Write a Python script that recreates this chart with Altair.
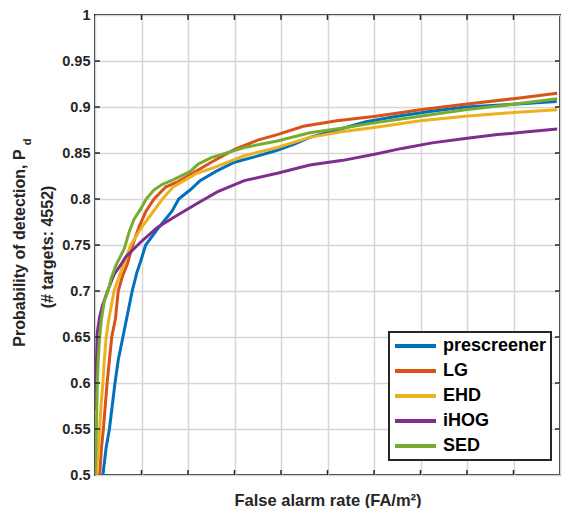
import altair as alt
import pandas as pd

series_names = ["prescreener", "LG", "EHD", "iHOG", "SED"]
series_colors = ["#0072BD", "#D95319", "#EDB120", "#7E2F8E", "#77AC30"]

prescreener_x = [0.17, 0.24, 0.31, 0.37, 0.43, 0.5, 0.6, 0.7, 0.8, 0.9, 0.98, 1.09, 1.34, 1.66, 1.8, 2.05, 2.26, 2.6, 3.0, 3.45, 3.92, 4.3, 4.62, 5.2, 5.83, 6.5, 7.2, 7.96, 9.0, 9.93]
prescreener_y = [0.5, 0.53, 0.55, 0.575, 0.60, 0.625, 0.65, 0.675, 0.70, 0.72, 0.732, 0.75, 0.767, 0.787, 0.80, 0.81, 0.82, 0.83, 0.84, 0.846, 0.853, 0.86, 0.867, 0.875, 0.884, 0.89, 0.895, 0.90, 0.903, 0.906]

lg_x = [0.1, 0.14, 0.18, 0.22, 0.26, 0.31, 0.36, 0.44, 0.5, 0.59, 0.7, 0.81, 0.95, 1.1, 1.27, 1.52, 1.79, 2.1, 2.5, 3.0, 3.5, 3.92, 4.48, 5.2, 6.04, 7.0, 7.96, 9.0, 9.94]
lg_y = [0.5, 0.53, 0.55, 0.575, 0.60, 0.625, 0.65, 0.67, 0.70, 0.716, 0.73, 0.75, 0.77, 0.787, 0.80, 0.813, 0.819, 0.828, 0.84, 0.854, 0.864, 0.87, 0.879, 0.885, 0.89, 0.897, 0.903, 0.909, 0.915]

ehd_x = [0.03, 0.07, 0.1, 0.13, 0.17, 0.2, 0.24, 0.3, 0.41, 0.55, 0.77, 0.95, 1.13, 1.45, 1.69, 2.19, 2.5, 3.21, 3.92, 4.62, 5.3, 6.04, 7.0, 7.96, 9.0, 9.94]
ehd_y = [0.5, 0.53, 0.55, 0.575, 0.60, 0.625, 0.65, 0.67, 0.70, 0.72, 0.75, 0.765, 0.778, 0.80, 0.8135, 0.828, 0.833, 0.847, 0.856, 0.867, 0.873, 0.878, 0.885, 0.89, 0.894, 0.897]

ihog_x = [0.0, 0.02, 0.03, 0.05, 0.1, 0.16, 0.27, 0.41, 0.55, 0.66, 0.98, 1.34, 1.76, 2.26, 2.64, 3.21, 3.92, 4.62, 5.33, 6.04, 6.6, 7.25, 8.0, 8.66, 9.3, 9.94]
ihog_y = [0.57, 0.60, 0.622, 0.655, 0.672, 0.684, 0.70, 0.718, 0.728, 0.737, 0.753, 0.769, 0.782, 0.797, 0.808, 0.82, 0.828, 0.837, 0.842, 0.849, 0.855, 0.861, 0.866, 0.87, 0.873, 0.876]

sed_x = [0.0, 0.02, 0.03, 0.04, 0.05, 0.07, 0.1, 0.14, 0.2, 0.28, 0.35, 0.45, 0.63, 0.74, 0.84, 0.98, 1.1, 1.27, 1.45, 1.69, 2.05, 2.22, 2.5, 3.21, 3.92, 4.62, 5.3, 6.04, 7.0, 7.96, 9.0, 9.94]
sed_y = [0.5, 0.53, 0.55, 0.575, 0.60, 0.625, 0.65, 0.67, 0.689, 0.70, 0.714, 0.728, 0.746, 0.765, 0.778, 0.789, 0.80, 0.81, 0.816, 0.821, 0.83, 0.838, 0.845, 0.856, 0.863, 0.872, 0.877, 0.883, 0.89, 0.897, 0.903, 0.909]

y_ticks = [0.5, 0.55, 0.6, 0.65, 0.7, 0.75, 0.8, 0.85, 0.9, 0.95, 1.0]
x_ticks = [0, 1, 2, 3, 4, 5, 6, 7, 8, 9, 10]

x_title = "False alarm rate (FA/m²)"
y_title_1 = "Probability of detection, P"
y_title_sub = "d"
y_title_2 = "(# targets: 4552)"

rows = []
for name, xs, ys in zip(series_names,
                        [prescreener_x, lg_x, ehd_x, ihog_x, sed_x],
                        [prescreener_y, lg_y, ehd_y, ihog_y, sed_y]):
    for i, (a, b) in enumerate(zip(xs, ys)):
        rows.append({"series": name, "x": a, "y": b, "i": i})
df = pd.DataFrame(rows)

FONT = "Liberation Sans"
TXT = "#262626"
W, H = 465, 460

xscale = alt.Scale(domain=[0, 10], nice=False, zero=False)
yscale = alt.Scale(domain=[0.5, 1.0], nice=False, zero=False)

lines = alt.Chart(df).mark_line(strokeWidth=3, clip=True).encode(
    x=alt.X("x:Q", scale=xscale,
            axis=alt.Axis(values=x_ticks, labels=False, ticks=False, domain=False,
                          grid=True, gridColor="#d6d6d6", gridWidth=1.5,
                          title=x_title, titleFont=FONT, titleFontSize=16.5,
                          titleFontWeight="bold", titleColor=TXT, titlePadding=17)),
    y=alt.Y("y:Q", scale=yscale,
            axis=alt.Axis(values=y_ticks, format=".2~f", ticks=False, domain=False,
                          grid=True, gridColor="#d6d6d6", gridWidth=1.5,
                          labelFont=FONT, labelFontSize=14.5, labelFontWeight="bold",
                          labelColor=TXT, labelPadding=5, title=None)),
    color=alt.Color("series:N",
                    scale=alt.Scale(domain=series_names, range=series_colors),
                    legend=alt.Legend(orient="none", legendX=294, legendY=317,
                                      title=None, symbolType="stroke", symbolSize=1681,
                                      symbolStrokeWidth=4, clipHeight=20, rowPadding=5,
                                      padding=4, labelOffset=5,
                                      labelFont=FONT, labelFontSize=18,
                                      labelFontWeight="bold", labelColor="black",
                                      strokeColor="#262626", fillColor="white")),
    order="i:Q",
)

ydf = pd.DataFrame({"v": y_ticks[1:-1]})
xdf = pd.DataFrame({"v": x_ticks[1:-1]})

tick_left = alt.Chart(ydf).mark_rule(color=TXT, strokeWidth=1.5).encode(
    y=alt.Y("v:Q", scale=yscale), x=alt.value(0), x2=alt.value(5))
tick_right = alt.Chart(ydf).mark_rule(color=TXT, strokeWidth=1.5).encode(
    y=alt.Y("v:Q", scale=yscale), x=alt.value(W), x2=alt.value(W - 5))
tick_bottom = alt.Chart(xdf).mark_rule(color=TXT, strokeWidth=1.5).encode(
    x=alt.X("v:Q", scale=xscale), y=alt.value(H), y2=alt.value(H - 5))
tick_top = alt.Chart(xdf).mark_rule(color=TXT, strokeWidth=1.5).encode(
    x=alt.X("v:Q", scale=xscale), y=alt.value(0), y2=alt.value(5))

one = pd.DataFrame({"t": [0]})
t1 = alt.Chart(one).mark_text(angle=270, text=y_title_1, font=FONT, fontSize=16,
                              fontWeight="bold", color=TXT, align="center",
                              baseline="middle").encode(x=alt.value(-75), y=alt.value(233))
tsub = alt.Chart(one).mark_text(angle=270, text=y_title_sub, font=FONT, fontSize=11,
                                fontWeight="bold", color=TXT, align="center",
                                baseline="middle").encode(x=alt.value(-67), y=alt.value(127))
t2 = alt.Chart(one).mark_text(angle=270, text=y_title_2, font=FONT, fontSize=16,
                              fontWeight="bold", color=TXT, align="center",
                              baseline="middle").encode(x=alt.value(-47), y=alt.value(232))

chart = alt.layer(lines, tick_left, tick_right, tick_bottom, tick_top, t1, tsub, t2).properties(
    width=W, height=H, autosize="none",
    padding={"left": 87, "top": 7, "right": 2, "bottom": 33},
    background="white",
).configure_view(stroke=TXT, strokeWidth=2).configure_legend(strokeWidth=2)

chart.save("out.html", embed_options={"renderer": "svg", "actions": False})
